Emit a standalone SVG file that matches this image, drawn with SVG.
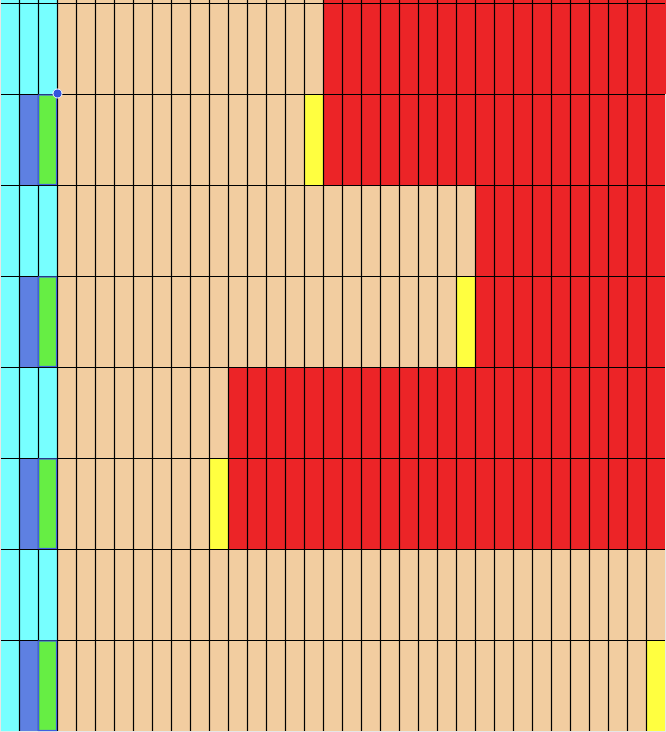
<svg xmlns="http://www.w3.org/2000/svg" width="666" height="732" viewBox="0 0 666 732">
<defs>
<style>
.cy{fill:#77FFFF}.bl{fill:#5E80E2}.gr{fill:#66EE44}.tn{fill:#F2CDA0}.rd{fill:#EC2427}.yl{fill:#FFFF40}
.grid{stroke:#000;stroke-width:1.2;fill:none}
.sel{fill:none;stroke:#3F5FE0;stroke-width:1.2}
</style>
</defs>
<rect x="0" y="0" width="666" height="732" fill="#E6E6E6"/>
<g id="row0">
<rect class="cy" x="1" y="0" width="56" height="94"/>
<rect class="tn" x="57" y="0" width="266" height="94"/>
<rect class="rd" x="323" y="0" width="343" height="94"/>
</g>
<g id="row1">
<rect class="cy" x="1" y="94" width="18" height="91"/>
<rect class="bl" x="19" y="94" width="19" height="91"/>
<rect class="gr" x="38" y="94" width="19" height="91"/>
<rect class="tn" x="57" y="94" width="247" height="91"/>
<rect class="yl" x="304" y="94" width="19" height="91"/>
<rect class="rd" x="323" y="94" width="342" height="91"/>
</g>
<g id="row2">
<rect class="cy" x="1" y="185" width="56" height="91"/>
<rect class="tn" x="57" y="185" width="418" height="91"/>
<rect class="rd" x="475" y="185" width="190" height="91"/>
</g>
<g id="row3">
<rect class="cy" x="1" y="276" width="18" height="91"/>
<rect class="bl" x="19" y="276" width="19" height="91"/>
<rect class="gr" x="38" y="276" width="19" height="91"/>
<rect class="tn" x="57" y="276" width="399" height="91"/>
<rect class="yl" x="456" y="276" width="19" height="91"/>
<rect class="rd" x="475" y="276" width="190" height="91"/>
</g>
<g id="row4">
<rect class="cy" x="1" y="367" width="56" height="91"/>
<rect class="tn" x="57" y="367" width="171" height="91"/>
<rect class="rd" x="228" y="367" width="437" height="91"/>
</g>
<g id="row5">
<rect class="cy" x="1" y="458" width="18" height="91"/>
<rect class="bl" x="19" y="458" width="19" height="91"/>
<rect class="gr" x="38" y="458" width="19" height="91"/>
<rect class="tn" x="57" y="458" width="152" height="91"/>
<rect class="yl" x="209" y="458" width="19" height="91"/>
<rect class="rd" x="228" y="458" width="437" height="91"/>
</g>
<g id="row6">
<rect class="cy" x="1" y="549" width="56" height="91"/>
<rect class="tn" x="57" y="549" width="608" height="91"/>
</g>
<g id="row7">
<rect class="cy" x="1" y="640" width="18" height="91"/>
<rect class="bl" x="19" y="640" width="19" height="91"/>
<rect class="gr" x="38" y="640" width="19" height="91"/>
<rect class="tn" x="57" y="640" width="589" height="91"/>
<rect class="yl" x="646" y="640" width="19" height="91"/>
</g>
<g id="gridlines">
<path class="grid" d="M19.5 0V731M38.5 0V731M57.5 0V731M76.5 0V731M95.5 0V731M114.5 0V731M133.5 0V731M152.5 0V731M171.5 0V731M190.5 0V731M209.5 0V731M228.5 0V731M247.5 0V731M266.5 0V731M285.5 0V731M304.5 0V731M323.5 0V731M342.5 0V731M361.5 0V731M380.5 0V731M399.5 0V731M418.5 0V731M437.5 0V731M456.5 0V731M475.5 0V731M494.5 0V731M513.5 0V731M532.5 0V731M551.5 0V731M570.5 0V731M589.5 0V731M608.5 0V731M627.5 0V731M646.5 0V731"/>
<path class="grid" d="M1 3.5H665M1 94.5H665M1 185.5H665M1 276.5H665M1 367.5H665M1 458.5H665M1 549.5H665M1 640.5H665"/>
</g>
<g id="selection">
<rect class="sel" x="38.5" y="95" width="18" height="89.5"/>
<rect class="sel" x="38.5" y="277" width="18" height="89.5"/>
<rect class="sel" x="38.5" y="459" width="18" height="89.5"/>
<rect class="sel" x="38.5" y="641" width="18" height="89.5"/>
<circle cx="57.5" cy="93.5" r="4.5" fill="#3355DD" stroke="#FFFFFF" stroke-width="1"/>
</g>
</svg>
